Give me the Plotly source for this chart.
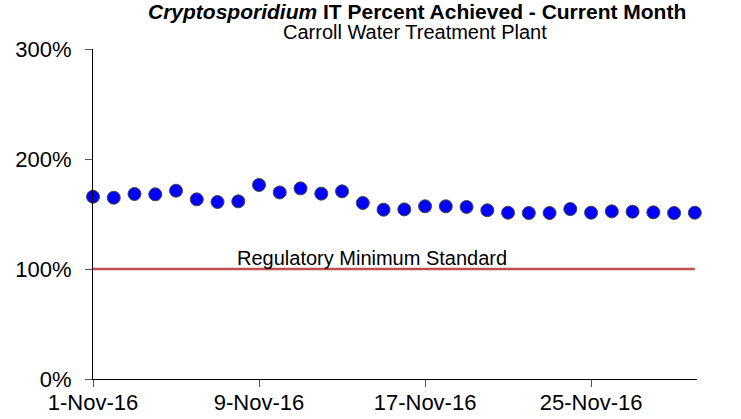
import plotly.graph_objects as go

days = list(range(1, 31))
dates = [f"2016-11-{d:02d}" for d in days]
percent_achieved = [165.7, 164.8, 168.2, 167.9, 171.2, 163.3, 160.9, 161.5, 176.4, 169.6,
                    173.3, 168.5, 170.6, 160.0, 153.9, 154.2, 157.0, 157.0, 156.4, 153.4,
                    151.2, 150.9, 150.9, 154.5, 151.2, 152.4, 152.1, 151.5, 150.9, 151.2]
reg_dates = ["2016-11-01", "2016-11-30"]
reg_min = [100, 100]
tick_dates = ["2016-11-01", "2016-11-09", "2016-11-17", "2016-11-25"]
y_ticks = [0, 100, 200, 300]
y_tick_text = ["0%", "100%", "200%", "300%"]

FONT = "Arial, Liberation Sans, sans-serif"

fig = go.Figure()
fig.add_trace(go.Scatter(x=reg_dates, y=reg_min, mode="lines",
                         line=dict(color="#C0504D", width=2.5), showlegend=False,
                         cliponaxis=False))
fig.add_trace(go.Scatter(x=dates, y=percent_achieved, mode="markers",
                         marker=dict(color="#0000FF", size=13,
                                     line=dict(color="#4a4a3a", width=1)),
                         showlegend=False, cliponaxis=False))

fig.add_annotation(x="2016-11-14 11:00", y=100, xref="x", yref="y",
                   text="Regulatory Minimum Standard", showarrow=False,
                   yanchor="bottom", yshift=-2, font=dict(family=FONT, size=20, color="black"))
fig.add_annotation(x=0.536, y=1.115, xref="paper", yref="paper",
                   text="<b><i>Cryptosporidium</i> IT Percent Achieved - Current Month</b>",
                   showarrow=False, yanchor="middle", xanchor="center",
                   font=dict(family=FONT, size=21, color="black"))
fig.add_annotation(x=0.533, y=1.052, xref="paper", yref="paper",
                   text="Carroll Water Treatment Plant",
                   showarrow=False, yanchor="middle", xanchor="center",
                   font=dict(family=FONT, size=20, color="black"))

fig.update_xaxes(type="date", range=["2016-11-01", "2016-11-30 02:30"],
                 tickvals=tick_dates, tickformat="%-d-%b-%y",
                 showline=True, linecolor="black", linewidth=1,
                 ticks="outside", ticklen=7, tickcolor="#555555",
                 ticklabelstandoff=-3,
                 showgrid=False, zeroline=False, automargin=False,
                 tickfont=dict(family=FONT, size=22, color="black"))
fig.update_yaxes(range=[0, 300], tickvals=y_ticks, ticktext=y_tick_text,
                 showline=True, linecolor="black", linewidth=1,
                 ticks="outside", ticklen=7, tickcolor="#555555",
                 ticklabelstandoff=9, automargin=False,
                 showgrid=False, zeroline=False,
                 tickfont=dict(family=FONT, size=22, color="black"))

fig.update_layout(width=741, height=419, plot_bgcolor="white", paper_bgcolor="white",
                  margin=dict(l=93, r=44, t=49, b=40))

fig.write_html("out.html", config={"displayModeBar": False},
               post_script="document.body.style.margin='0px';")
